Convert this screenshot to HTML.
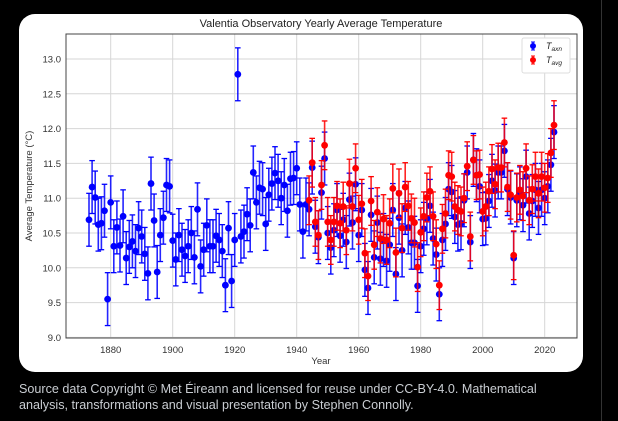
<!DOCTYPE html>
<html><head><meta charset="utf-8"><style>
body{margin:0;background:#000;width:618px;height:421px;overflow:hidden;position:relative;font-family:"Liberation Sans",sans-serif}
#card{position:absolute;left:19px;top:14px;width:564px;height:358px;background:#fff;border-radius:16px}
#cap{position:absolute;left:19px;top:381px;color:#c9cdd2;font-size:12.6px;line-height:16px;width:560px}
#vl{position:absolute;left:601px;top:0;width:1px;height:421px;background:#333}
svg{position:absolute;left:0;top:0}
</style></head><body>
<div id="card"></div><div id="vl"></div>
<div id="cap">Source data Copyright © Met Éireann and licensed for reuse under CC-BY-4.0. Mathematical analysis, transformations and visual presentation by Stephen Connolly.</div>
<svg id="s" width="618" height="421" xmlns="http://www.w3.org/2000/svg"></svg>
<script>
const B=[10.69,11.16,11.01,10.62,10.64,10.82,9.55,10.94,10.31,10.58,10.32,10.74,10.14,10.30,10.38,10.24,10.57,10.45,10.20,9.92,11.21,10.68,9.94,10.47,10.72,11.19,11.17,10.39,10.12,10.47,10.26,10.17,10.31,10.50,10.15,10.84,10.02,10.26,10.61,10.31,10.31,10.46,10.40,10.24,9.75,10.57,9.81,10.40,12.78,10.45,10.52,10.77,10.61,11.37,10.94,11.15,11.13,10.63,11.05,11.21,11.36,11.25,11.00,11.19,10.82,11.28,11.29,11.43,10.91,10.52,10.91,
10.84,11.44,10.59,10.44,11.08,11.57,10.50,10.29,10.54,10.83,10.46,10.69,10.37,10.98,10.65,11.20,10.47,10.83,9.97,9.71,10.76,10.15,10.65,10.13,10.40,10.10,10.33,10.83,9.91,10.72,10.25,10.86,10.58,10.36,10.36,9.74,10.31,10.56,10.71,10.89,10.42,10.19,9.62,10.40,10.63,11.13,11.09,10.73,10.62,10.64,10.97,11.37,10.37,11.55,11.33,11.17,10.70,10.71,10.96,11.25,11.11,11.37,11.37,11.68,11.13,11.01,10.14,10.97,11.07,10.90,11.31,10.78,10.96,11.12,10.86,11.12,11.00,11.17,11.48,11.95];
const R=[10.97,11.51,10.66,10.47,11.19,11.76,10.66,10.40,10.66,10.89,10.64,10.88,10.54,11.21,10.88,11.43,10.69,10.92,10.21,9.88,10.96,10.33,10.80,10.42,10.70,10.40,10.64,11.14,10.22,11.07,10.57,11.16,10.89,10.71,10.65,10.01,10.51,10.74,11.01,11.10,10.74,10.34,9.75,10.56,10.78,11.33,11.31,10.88,10.83,10.81,11.00,11.46,10.45,11.55,11.33,11.34,10.81,10.88,11.10,11.42,11.20,11.44,11.44,11.80,11.16,11.05,10.18,11.01,11.12,11.03,11.43,10.97,11.13,11.31,11.07,11.31,11.15,11.29,11.65,12.05];
const X=y=>110.7+(y-1880)*3.1, Y=v=>59+(13-v)*69.6;
let h='';
const L=66,T=34,Rr=577,Bt=338;
[1880,1900,1920,1940,1960,1980,2000,2020].forEach(y=>{h+=`<line x1="${X(y)}" y1="${T}" x2="${X(y)}" y2="${Bt}" stroke="#d6d6d6" stroke-width="1"/><text x="${X(y)}" y="${Bt+15}" font-size="9.5" fill="#333" text-anchor="middle">${y}</text>`});
[9.0,9.5,10.0,10.5,11.0,11.5,12.0,12.5,13.0].forEach(v=>{h+=`<line x1="${L}" y1="${Y(v)}" x2="${Rr}" y2="${Y(v)}" stroke="#d6d6d6" stroke-width="1"/><text x="${L-5}" y="${Y(v)+3.5}" font-size="9.5" fill="#333" text-anchor="end">${v.toFixed(1)}</text>`});
function ser(arr,y0,col,e){arr.forEach((v,i)=>{const x=X(y0+i),a=Y(v+e),b=Y(v-e);
h+=`<line x1="${x}" y1="${a}" x2="${x}" y2="${b}" stroke="${col}" stroke-width="1.6" opacity="0.85"/><line x1="${x-2.8}" y1="${a}" x2="${x+2.8}" y2="${a}" stroke="${col}" stroke-width="1.3"/><line x1="${x-2.8}" y1="${b}" x2="${x+2.8}" y2="${b}" stroke="${col}" stroke-width="1.3"/><circle cx="${x}" cy="${Y(v)}" r="3.4" fill="${col}"/>`});}
ser(B,1873,"#0000ff",0.38);
ser(R,1944,"#ff0000",0.35);
h+=`<rect x="${L}" y="${T}" width="${Rr-L}" height="${Bt-T}" fill="none" stroke="#444" stroke-width="1"/>`;
h+=`<text x="321" y="27" font-size="11" fill="#222" text-anchor="middle">Valentia Observatory Yearly Average Temperature</text>`;
h+=`<text x="321" y="364" font-size="9.5" fill="#333" text-anchor="middle">Year</text>`;
h+=`<text transform="translate(32,186) rotate(-90)" font-size="9.5" fill="#333" text-anchor="middle">Average Temperature (°C)</text>`;
h+=`<rect x="522" y="38" width="48" height="35" rx="2" fill="#fff" stroke="#ddd"/>`;
[[46,"#0000ff","axn"],[60,"#ff0000","avg"]].forEach(([y,c,s])=>{h+=`<line x1="533" y1="${y-4}" x2="533" y2="${y+4}" stroke="${c}" stroke-width="1.5"/><line x1="531" y1="${y-4}" x2="535" y2="${y-4}" stroke="${c}"/><line x1="531" y1="${y+4}" x2="535" y2="${y+4}" stroke="${c}"/><circle cx="533" cy="${y}" r="3" fill="${c}"/><text x="546" y="${y+3}" font-size="9" font-style="italic" fill="#222">T<tspan font-size="6.5" dy="2">${s}</tspan></text>`});
document.getElementById('s').innerHTML=h;
</script>
</body></html>
